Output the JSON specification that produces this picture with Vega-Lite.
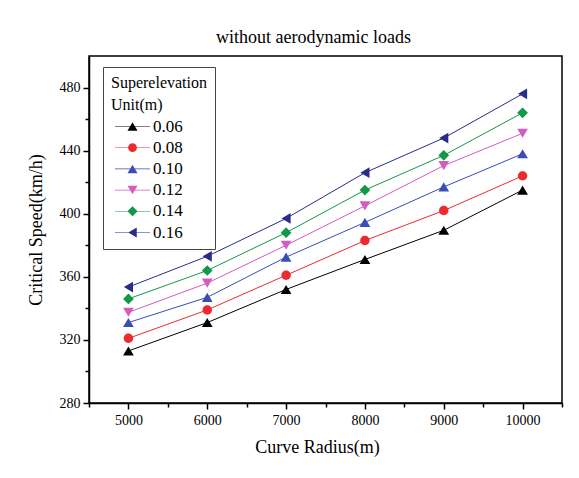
{
  "$schema": "https://vega.github.io/schema/vega-lite/v6.json",
  "width": 473,
  "height": 347,
  "autosize": {"type": "none"},
  "padding": {"left": 89, "top": 56, "right": 17, "bottom": 75},
  "background": "white",
  "title": {
    "text": "without aerodynamic loads",
    "font": "Liberation Serif",
    "fontSize": 18,
    "fontWeight": "normal",
    "color": "black",
    "anchor": "middle",
    "dx": -12,
    "offset": 9
  },
  "config": {
    "font": "Liberation Serif",
    "view": {"stroke": "black", "strokeWidth": 1.5},
    "axis": {
      "grid": false,
      "domainColor": "black",
      "domainWidth": 1.5,
      "tickColor": "black",
      "tickWidth": 1.5,
      "labelFont": "Liberation Serif",
      "labelFontSize": 14,
      "labelColor": "black",
      "titleFont": "Liberation Serif",
      "titleFontSize": 18,
      "titleFontWeight": "normal",
      "titleColor": "black"
    },
    "legend": {
      "titleFont": "Liberation Serif",
      "titleFontSize": 16,
      "titleFontWeight": "normal",
      "titleColor": "black",
      "titleLineHeight": 22,
      "labelFont": "Liberation Serif",
      "labelFontSize": 17,
      "labelColor": "black"
    }
  },
  "data": {
    "values": [
      {"radius": 5000, "speed": 313, "se": "0.06"},
      {"radius": 6000, "speed": 331, "se": "0.06"},
      {"radius": 7000, "speed": 352, "se": "0.06"},
      {"radius": 8000, "speed": 371, "se": "0.06"},
      {"radius": 9000, "speed": 389.5, "se": "0.06"},
      {"radius": 10000, "speed": 415, "se": "0.06"},
      {"radius": 5000, "speed": 321, "se": "0.08"},
      {"radius": 6000, "speed": 339, "se": "0.08"},
      {"radius": 7000, "speed": 361, "se": "0.08"},
      {"radius": 8000, "speed": 383, "se": "0.08"},
      {"radius": 9000, "speed": 402, "se": "0.08"},
      {"radius": 10000, "speed": 424, "se": "0.08"},
      {"radius": 5000, "speed": 331, "se": "0.10"},
      {"radius": 6000, "speed": 347, "se": "0.10"},
      {"radius": 7000, "speed": 372.5, "se": "0.10"},
      {"radius": 8000, "speed": 394.5, "se": "0.10"},
      {"radius": 9000, "speed": 417, "se": "0.10"},
      {"radius": 10000, "speed": 438, "se": "0.10"},
      {"radius": 5000, "speed": 337.5, "se": "0.12"},
      {"radius": 6000, "speed": 356, "se": "0.12"},
      {"radius": 7000, "speed": 380, "se": "0.12"},
      {"radius": 8000, "speed": 405, "se": "0.12"},
      {"radius": 9000, "speed": 430.5, "se": "0.12"},
      {"radius": 10000, "speed": 451, "se": "0.12"},
      {"radius": 5000, "speed": 346, "se": "0.14"},
      {"radius": 6000, "speed": 364, "se": "0.14"},
      {"radius": 7000, "speed": 388, "se": "0.14"},
      {"radius": 8000, "speed": 415, "se": "0.14"},
      {"radius": 9000, "speed": 437, "se": "0.14"},
      {"radius": 10000, "speed": 464, "se": "0.14"},
      {"radius": 5000, "speed": 353.5, "se": "0.16"},
      {"radius": 6000, "speed": 373, "se": "0.16"},
      {"radius": 7000, "speed": 397, "se": "0.16"},
      {"radius": 8000, "speed": 426, "se": "0.16"},
      {"radius": 9000, "speed": 448, "se": "0.16"},
      {"radius": 10000, "speed": 476, "se": "0.16"}
    ]
  },
  "encoding": {
    "x": {
      "field": "radius",
      "type": "quantitative",
      "title": "Curve Radius(m)",
      "scale": {"domain": [4500, 10500], "nice": false, "zero": false},
      "axis": {
        "values": [4500, 5000, 5500, 6000, 6500, 7000, 7500, 8000, 8500, 9000, 9500, 10000, 10500],
        "format": "d",
        "labelExpr": "datum.value % 1000 == 0 ? datum.label : ''",
        "tickSize": {"condition": {"test": "datum.value % 1000 == 0", "value": 6}, "value": 4},
        "labelPadding": 4,
        "titlePadding": 11,
        "titleX": 228
      }
    },
    "y": {
      "field": "speed",
      "type": "quantitative",
      "title": "Critical Speed(km/h)",
      "scale": {"domain": [280, 500], "nice": false, "zero": false},
      "axis": {
        "values": [280, 300, 320, 340, 360, 380, 400, 420, 440, 460, 480],
        "labelExpr": "datum.value % 40 == 0 ? datum.label : ''",
        "tickSize": {"condition": {"test": "datum.value % 40 == 0", "value": 6}, "value": 4},
        "labelPadding": 3,
        "titlePadding": 14
      }
    }
  },
  "resolve": {"scale": {"shape": "independent", "color": "independent"}},
  "layer": [
    {
      "mark": {"type": "line", "strokeWidth": 1},
      "encoding": {
        "color": {
          "field": "se",
          "type": "nominal",
          "scale": {
            "domain": ["0.06", "0.08", "0.10", "0.12", "0.14", "0.16"],
            "range": ["#000000", "#ec2b2e", "#3a4cb8", "#d35cc0", "#119849", "#2c2b88"]
          },
          "legend": null
        }
      }
    },
    {
      "mark": {"type": "point", "filled": true, "size": 115, "opacity": 1},
      "encoding": {
        "color": {
          "field": "se",
          "type": "nominal",
          "scale": {
            "domain": ["0.06", "0.08", "0.10", "0.12", "0.14", "0.16"],
            "range": ["#000000", "#ec2b2e", "#3a4cb8", "#d35cc0", "#119849", "#2c2b88"]
          },
          "legend": null
        },
        "shape": {
          "field": "se",
          "type": "nominal",
          "scale": {
            "domain": ["0.06", "0.08", "0.10", "0.12", "0.14", "0.16"],
            "range": [
              "M0,-0.85L1,0.85L-1,0.85Z",
              "M0.88,0A0.88,0.88,0,1,1,-0.88,0A0.88,0.88,0,1,1,0.88,0Z",
              "M0,-0.85L1,0.85L-1,0.85Z",
              "M0,0.85L-1,-0.85L1,-0.85Z",
              "M0,-1L1,0L0,1L-1,0Z",
              "M-0.85,0L0.85,-1L0.85,1Z"
            ]
          },
          "legend": null
        }
      }
    },
    {
      "mark": {"type": "point", "filled": true, "size": 110, "opacity": 0},
      "encoding": {
        "color": {
          "field": "se",
          "type": "nominal",
          "scale": {
            "domain": ["0.06", "0.08", "0.10", "0.12", "0.14", "0.16"],
            "range": ["#000000", "#ec2b2e", "#3a4cb8", "#d35cc0", "#119849", "#2c2b88"]
          },
          "legend": {
            "orient": "none",
            "legendX": 14,
            "legendY": 11,
            "title": ["Superelevation", "Unit(m)"],
            "titlePadding": 5,
            "labelOffset": 12,
            "symbolOffset": 13,
            "symbolSize": 100,
            "symbolOpacity": 1,
            "padding": 8,
            "rowPadding": 3.2,
            "strokeColor": "#444444",
            "fillColor": "white"
          }
        },
        "shape": {
          "field": "se",
          "type": "nominal",
          "scale": {
            "domain": ["0.06", "0.08", "0.10", "0.12", "0.14", "0.16"],
            "range": [
              "M0,-0.85L1,0.85L-1,0.85Z M-3.5,-0.06L3.5,-0.06L3.5,0.06L-3.5,0.06Z",
              "M0.88,0A0.88,0.88,0,1,1,-0.88,0A0.88,0.88,0,1,1,0.88,0Z M-3.5,-0.06L3.5,-0.06L3.5,0.06L-3.5,0.06Z",
              "M0,-0.85L1,0.85L-1,0.85Z M-3.5,-0.06L3.5,-0.06L3.5,0.06L-3.5,0.06Z",
              "M0,0.85L-1,-0.85L1,-0.85Z M-3.5,-0.06L3.5,-0.06L3.5,0.06L-3.5,0.06Z",
              "M0,-1L1,0L0,1L-1,0Z M-3.5,-0.06L3.5,-0.06L3.5,0.06L-3.5,0.06Z",
              "M-0.85,0L0.85,-1L0.85,1Z M-3.5,-0.06L3.5,-0.06L3.5,0.06L-3.5,0.06Z"
            ]
          },
          "legend": {
            "orient": "none",
            "legendX": 14,
            "legendY": 11,
            "title": ["Superelevation", "Unit(m)"],
            "titlePadding": 5,
            "labelOffset": 12,
            "symbolOffset": 13,
            "symbolSize": 100,
            "symbolOpacity": 1,
            "padding": 8,
            "rowPadding": 3.2,
            "strokeColor": "#444444",
            "fillColor": "white"
          }
        }
      }
    }
  ]
}
